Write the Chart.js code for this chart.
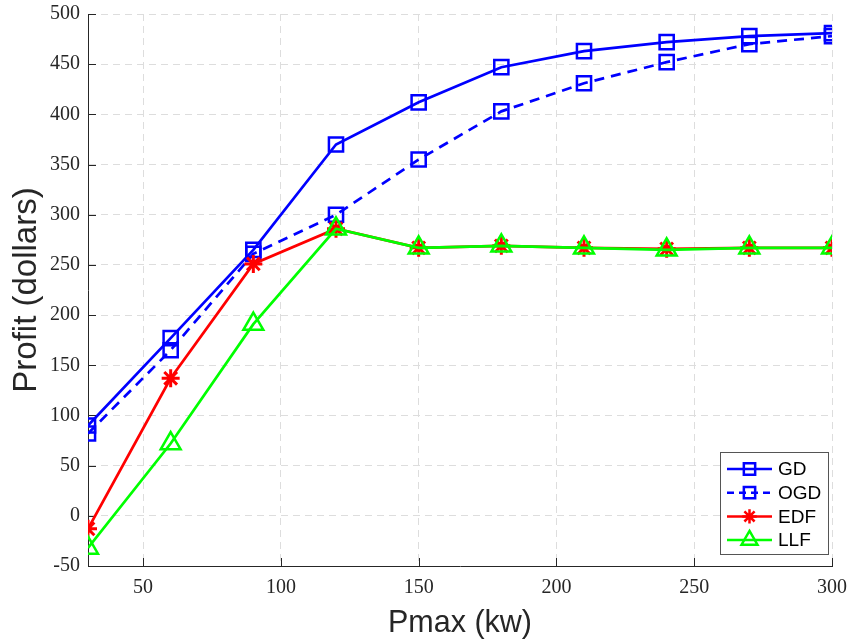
<!DOCTYPE html>
<html>
<head>
<meta charset="utf-8">
<script src="https://cdn.jsdelivr.net/npm/chart.js@4"></script>
<style>
  body { margin: 0; background: #fff; }
  #wrap { width: 852px; height: 643px; }
</style>
</head>
<body>
<div id="wrap"><canvas id="grafico" width="852" height="643"></canvas></div>
<script>
// Pmax (kw) e lucro de cada estratégia
const pmax = [30, 60, 90, 120, 150, 180, 210, 240, 270, 300];
const lucroGD  = [90, 177, 265, 370, 412, 447, 463, 472, 478, 481];
const lucroOGD = [82, 165, 261, 300, 355, 403, 431, 452, 470, 478];
const lucroEDF = [-13, 137, 251, 286, 267, 269, 267, 266, 267, 267];
const lucroLLF = [-32, 72, 191, 286, 267, 269, 267, 265, 267, 267];
const ticksX = [50, 100, 150, 200, 250, 300];

const AZUL = '#0000ff', VERMELHO = '#ff0000', VERDE = '#00ff00';
const EIXO = '#262626';

const series = [
  { label: 'GD',  data: lucroGD,  cor: AZUL,     estilo: 'rect',     raio: 10,   dash: [],      ordem: 3 },
  { label: 'OGD', data: lucroOGD, cor: AZUL,     estilo: 'rect',     raio: 10,   dash: [10, 7], ordem: 2 },
  { label: 'EDF', data: lucroEDF, cor: VERMELHO, estilo: 'star',     raio: 9,    dash: [],      ordem: 1 },
  { label: 'LLF', data: lucroLLF, cor: VERDE,    estilo: 'triangle', raio: 11.5, dash: [],      ordem: 0 }
];

// legenda estilo MATLAB: linha com marcador no meio
const legendaLinhas = {
  id: 'legendaLinhas',
  afterDraw(chart) {
    const ctx = chart.ctx;
    const x0 = 720, y0 = 452, w = 108, h = 102;
    ctx.save();
    ctx.fillStyle = '#fff';
    ctx.fillRect(x0, y0, w, h);
    ctx.strokeStyle = '#555';
    ctx.lineWidth = 1;
    ctx.strokeRect(x0 + 0.5, y0 + 0.5, w, h);
    series.forEach((s, i) => {
      const y = 469 + i * 23.7;
      ctx.strokeStyle = s.cor;
      ctx.lineWidth = 2.5;
      ctx.setLineDash(s.dash.length ? [7, 5] : []);
      ctx.beginPath();
      ctx.moveTo(727, y);
      ctx.lineTo(772, y);
      ctx.stroke();
      ctx.setLineDash([]);
      ctx.fillStyle = 'rgba(0,0,0,0)';
      Chart.helpers.drawPoint(ctx, { pointStyle: s.estilo, radius: s.raio * 0.8, rotation: 0, borderWidth: 2.5 }, 749.5, y);
      ctx.fillStyle = '#000';
      ctx.font = '19px "Liberation Sans", Arial, sans-serif';
      ctx.textBaseline = 'middle';
      ctx.textAlign = 'left';
      ctx.fillText(s.label, 778, y + 1);
    });
    ctx.restore();
  }
};

// marcas de escala voltadas para dentro
const marcasInternas = {
  id: 'marcasInternas',
  beforeDatasetsDraw(chart) {
    const { ctx, chartArea: a, scales: { x, y } } = chart;
    ctx.save();
    ctx.strokeStyle = EIXO;
    ctx.lineWidth = 1;
    ctx.beginPath();
    ticksX.forEach(v => {
      const px = Math.round(x.getPixelForValue(v)) + 0.5;
      ctx.moveTo(px, a.bottom);
      ctx.lineTo(px, a.bottom - 8);
    });
    y.ticks.forEach(t => {
      const py = Math.round(y.getPixelForValue(t.value)) + 0.5;
      ctx.moveTo(a.left, py);
      ctx.lineTo(a.left + 8, py);
    });
    ctx.stroke();
    ctx.restore();
  }
};

const fonteTicks = { family: '"Liberation Serif", "DejaVu Serif", serif', size: 20 };
const fonte = '"Liberation Sans", Arial, sans-serif';

new Chart(document.getElementById('grafico'), {
  type: 'line',
  data: {
    datasets: series.map(s => ({
      label: s.label,
      data: pmax.map((p, i) => ({ x: p, y: s.data[i] })),
      borderColor: s.cor,
      backgroundColor: 'rgba(0,0,0,0)',
      borderWidth: 2.7,
      borderDash: s.dash,
      pointStyle: s.estilo,
      pointRadius: s.raio,
      pointBorderWidth: s.estilo === 'star' ? 3 : 2.5,
      pointBorderColor: s.cor,
      pointBackgroundColor: 'rgba(0,0,0,0)',
      tension: 0,
      order: s.ordem
    }))
  },
  options: {
    responsive: false,
    animation: false,
    layout: { padding: { top: 14, right: 20, left: 0, bottom: 0 } },
    plugins: { legend: { display: false }, tooltip: { enabled: false } },
    scales: {
      x: {
        type: 'linear', min: 30, max: 300,
        afterBuildTicks: s => { s.ticks = ticksX.map(v => ({ value: v })); },
        afterFit: s => { s.height = 77; s.paddingLeft = 0; s.paddingRight = 0; },
        grid: { color: '#dddddd', lineWidth: 1, drawTicks: false },
        border: { display: true, color: EIXO, width: 1, dash: [7, 5] },
        ticks: { font: fonteTicks, color: EIXO, padding: 10, maxRotation: 0 },
        title: { display: true, text: 'Pmax (kw)', font: { family: fonte, size: 30.5 }, color: EIXO, padding: { top: 0, bottom: 1 } }
      },
      y: {
        min: -50, max: 500,
        afterFit: s => { s.width = 88; s.paddingTop = 0; s.paddingBottom = 0; },
        grid: { color: '#dddddd', lineWidth: 1, drawTicks: false },
        border: { display: true, color: EIXO, width: 1, dash: [7, 5] },
        ticks: { stepSize: 50, font: fonteTicks, color: EIXO, padding: 8 },
        title: { display: true, text: 'Profit (dollars)', font: { family: fonte, size: 33 }, color: EIXO, padding: { top: 7, bottom: 0 } }
      }
    }
  },
  plugins: [marcasInternas, legendaLinhas]
});
</script>
</body>
</html>
